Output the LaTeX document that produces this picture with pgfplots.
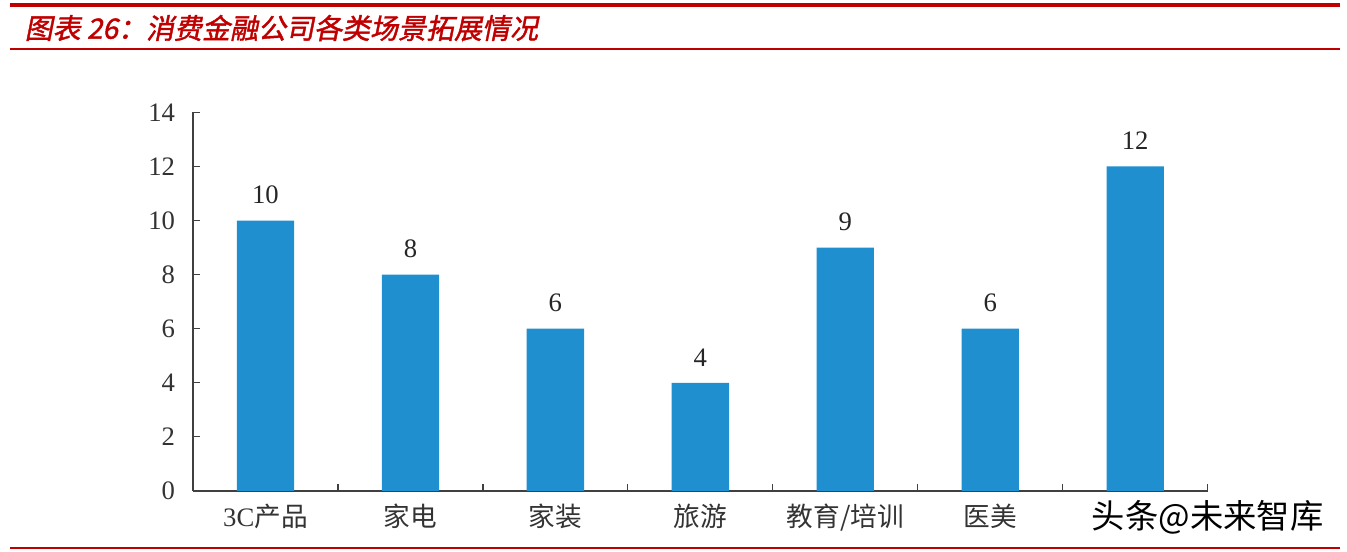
\documentclass[border=0pt]{standalone}
\usepackage{pgfplots}
\pgfplotsset{compat=1.18}
\usepackage{fontspec}
\setmainfont{Liberation Serif}
\newfontfamily\cjk{Noto Sans CJK SC}
\newfontfamily\titlefont[FakeSlant=0.2,FakeBold=1.5]{Noto Sans CJK SC}
\definecolor{barblue}{RGB}{31,143,208}
\definecolor{titlered}{RGB}{192,0,0}
\definecolor{axisgray}{RGB}{64,64,64}

\begin{document}
\begin{tikzpicture}[x=0.75pt,y=0.75pt]
% page: 1347 x 552 px, axis lower left at (193,491) px
\useasboundingbox (-193,-61) rectangle (1154,491);
\draw[titlered,line width=3pt] (-183,486) -- (1147,486);
\draw[titlered,line width=1.1pt] (-183,442) -- (1147,442);
\draw[titlered,line width=1.1pt] (-183,-57) -- (1147,-57);
\node[anchor=west,text=titlered,font=\fontsize{21}{25}\selectfont\titlefont] at (-173,463) {图表 26：消费金融公司各类场景拓展情况};
\begin{axis}[
    at={(0,0)}, anchor=south west,
    scale only axis,
    width=761pt, height=284pt,
    ybar, bar width=43pt,
    xmin=-0.5, xmax=6.5,
    ymin=0, ymax=14,
    ytick={0,2,...,14},
    xtick={0.5,1.5,...,6.5},
    xticklabels={},
    extra x ticks={0,1,2,3,4,5,6},
    extra x tick labels={{3C\cjk 产品},{\cjk 家电},{\cjk 家装},{\cjk 旅游},{\cjk 教育/培训},{\cjk 医美},{}},
    extra x tick style={major tick length=0pt},
    axis x line*=bottom, axis y line*=left,
    axis line style={draw=axisgray,line width=1.1pt},
    tick style={draw=axisgray,line width=0.9pt},
    tick align=inside,
    major tick length=5pt,
    /pgf/number format/assume math mode=true,
    ticklabel style={font=\fontsize{20}{23}\selectfont, text=black!80},
    yticklabel style={xshift=-10pt},
    xticklabel style={yshift=-6pt},
    nodes near coords,
    every node near coord/.append style={font=\fontsize{20}{23}\selectfont, text=black!85, yshift=9pt},
    clip=false,
]
\addplot[fill=barblue, draw=none] coordinates {(0,10) (1,8) (2,6) (3,4) (4,9) (5,6) (6,12)};
\node[font=\fontsize{25}{29}\selectfont\cjk, text=black] at (axis cs:6.5,-0.97) {头条@未来智库};
\end{axis}
\end{tikzpicture}
\end{document}
